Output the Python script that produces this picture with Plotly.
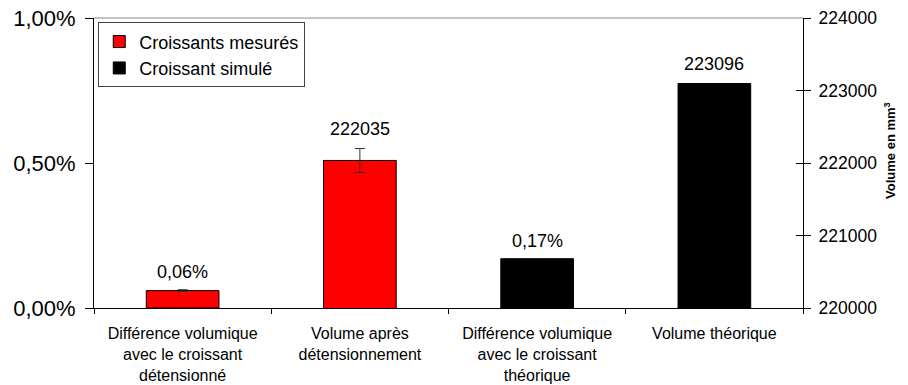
import plotly.graph_objects as go

categories = ["c1", "c2", "c3", "c4"]
tick_labels = [
    "Différence volumique<br>avec le croissant<br>détensionné",
    "Volume après<br>détensionnement",
    "Différence volumique<br>avec le croissant<br>théorique",
    "Volume théorique",
]
# left axis (fraction) vs right axis (mm3)
pct_cats = ["c1", "c3"]
pct_values = [0.0006, 0.0017]
pct_errors = [0.00003, 0.0]
vol_cats = ["c2", "c4"]
vol_values = [222035, 223096]
vol_errors = [165, 0]
series_names = ["Croissants mesurés", "Croissant simulé"]
series_colors = ["#FF0000", "#000000"]
label_pct = ["0,06%", "0,17%"]
label_vol = ["222035", "223096"]

FONT = "Liberation Sans, Arial, sans-serif"
BAR_W = 0.41

fig = go.Figure()
for i in range(2):
    fig.add_trace(go.Bar(
        x=[pct_cats[i]], y=[pct_values[i]], yaxis="y",
        name=series_names[i], showlegend=True,
        marker=dict(color=series_colors[i], line=dict(color="black", width=1)),
        width=BAR_W,
        error_y=dict(type="data", array=[pct_errors[i]], visible=pct_errors[i] > 0,
                     color="#333333", thickness=1, width=5),
    ))
for i in range(2):
    fig.add_trace(go.Bar(
        x=[vol_cats[i]], y=[vol_values[i]], yaxis="y2",
        name=series_names[i], showlegend=False,
        marker=dict(color=series_colors[i], line=dict(color="black", width=1)),
        width=BAR_W,
        error_y=dict(type="data", array=[vol_errors[i]], visible=vol_errors[i] > 0,
                     color="#333333", thickness=1, width=5),
    ))

annotations = []
for i in range(2):
    annotations.append(dict(x=pct_cats[i], y=pct_values[i] + pct_errors[i], xref="x", yref="y",
                            text=label_pct[i], showarrow=False, yanchor="bottom", yshift=6,
                            font=dict(size=18, color="black", family=FONT)))
    annotations.append(dict(x=vol_cats[i], y=vol_values[i] + vol_errors[i], xref="x", yref="y2",
                            text=label_vol[i], showarrow=False, yanchor="bottom", yshift=8,
                            font=dict(size=18, color="black", family=FONT)))
annotations.append(dict(x=1.1227, y=0.545, xref="paper", yref="paper",
                        xanchor="center", yanchor="middle",
                        text="<b>Volume en mm<sup>3</sup></b>", textangle=-90, showarrow=False,
                        font=dict(size=13, color="black", family=FONT)))
fig.update_layout(
    width=908, height=385,
    margin=dict(l=94, r=105, t=18, b=77, pad=0, autoexpand=False),
    paper_bgcolor="white", plot_bgcolor="white",
    barmode="overlay", hovermode=False,
    separators=", ",
    font=dict(family=FONT, color="black"),
    annotations=annotations,
    shapes=[dict(type="line", xref="paper", yref="paper", x0=0, x1=1, y0=1, y1=1,
                 line=dict(color="#888888", width=1))],
    xaxis=dict(
        categoryorder="array", categoryarray=categories,
        tickmode="array", tickvals=categories, ticktext=tick_labels,
        tickson="boundaries", ticks="outside", ticklen=5, tickcolor="black",
        ticklabelstandoff=11,
        showline=True, linecolor="black", linewidth=1, showgrid=False,
        tickfont=dict(size=16, family=FONT, color="black"),
        range=[-0.5, 3.5], automargin=False,
    ),
    yaxis=dict(
        range=[0, 0.01], tickvals=[0, 0.005, 0.01], tickformat=".2%",
        ticks="outside", ticklen=8, tickcolor="black", ticklabelstandoff=5,
        showline=True, linecolor="black", linewidth=1, showgrid=False, zeroline=False,
        tickfont=dict(size=22, family=FONT, color="black"), automargin=False,
    ),
    yaxis2=dict(
        range=[220000, 224000], dtick=1000, tickformat="d", overlaying="y", side="right",
        ticks="outside", ticklen=7, tickcolor="black", ticklabelstandoff=4,
        showline=True, linecolor="black", linewidth=1, showgrid=False, zeroline=False,
        tickfont=dict(size=17.5, family=FONT, color="black"), automargin=False,
    ),
    yaxis3=dict(
        range=[220000, 224000], dtick=1000, overlaying="y", side="right",
        ticks="inside", ticklen=7, tickcolor="black", showticklabels=False,
        showline=False, showgrid=False, zeroline=False, automargin=False,
    ),
    legend=dict(
        x=0.006, y=0.985, xanchor="left", yanchor="top",
        bordercolor="#444444", borderwidth=1, bgcolor="white", tracegroupgap=0,
        font=dict(size=18, family=FONT, color="black"),
    ),
)
# empty trace to activate the inner-tick axis (no visible marks)
fig.add_trace(go.Scatter(x=[None], y=[None], yaxis="y3", showlegend=False, hoverinfo="skip"))
fig.write_html("out.html", config={"displayModeBar": False, "staticPlot": True},
               post_script="document.body.style.margin='0';")
